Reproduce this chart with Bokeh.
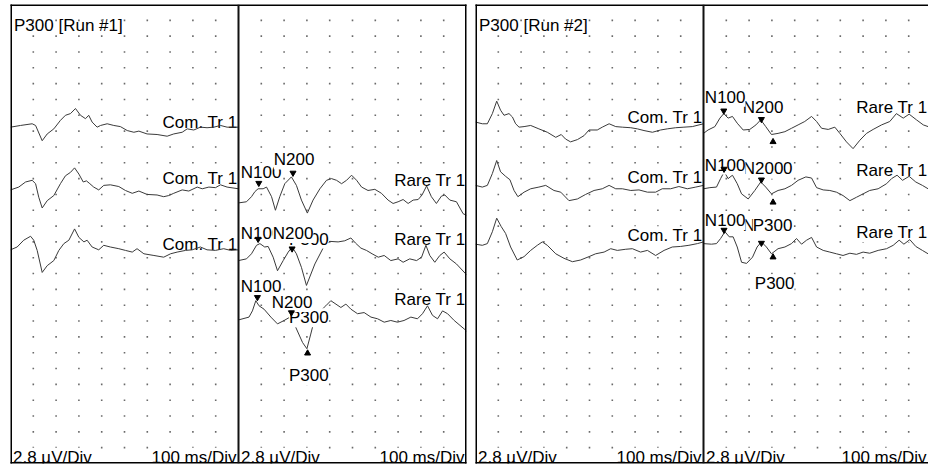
import numpy as np
from bokeh.plotting import figure
from bokeh.models import Range1d, Span
from bokeh.layouts import row
from bokeh.embed import file_html
from bokeh.resources import INLINE
from bokeh.core.properties import value

# ---------------- scale settings ----------------
UV_PER_DIV = 2.8
MS_PER_DIV = 100
N_YDIV = 29

# ---------------- Run #1, common (standard) trials : time [ms], amplitude [uV] ----------------
r1_com1_t = [0, 44, 95, 110, 139, 161, 190, 219, 241, 263, 285, 307, 329, 343, 358, 380, 395, 424, 453, 482,
             512, 541, 563, 599, 643, 687, 716, 753, 775, 804, 833, 862, 892, 921, 950, 1000]
r1_com1_v = [0, 0.3, 0.6, 0.3, -2.4, -1.2, -0.3, 1.2, 2.1, 2.4, 3.3, 2.1, 1.5, 2.1, 0.9, 0, 0.3, 0.6, 0.3, 0.1,
             -0.6, -0.9, -0.7, -1.2, -1.3, -1.6, -1.2, -0.9, -0.3, -0.5, 0, -0.1, 0, 0.3, 0, 0]
r1_com2_t = [0, 36, 66, 95, 110, 124, 139, 161, 190, 219, 241, 263, 281, 300, 319, 333, 348, 365, 387, 409,
             438, 475, 504, 534, 563, 599, 643, 672, 694, 716, 753, 782, 819, 841, 870, 899, 921, 950, 1000]
r1_com2_v = [0, 0.5, 1.4, 1.7, 1.1, -1.3, -3.2, -1.9, -1.0, 1.1, 2.5, 3.1, 3.9, 2.8, 1.4, 1.6, 1.1, 0.5, 0, 0.8,
             0.9, 0.6, -0.1, -0.6, -0.2, -0.8, -0.9, -1.2, -1.0, -0.6, 0, -0.2, 0.5, 0.2, 0.5, 0.4, 0.9, 0.5, 0.2]
r1_com3_t = [0, 29, 58, 88, 102, 117, 139, 161, 190, 212, 234, 256, 281, 300, 322, 336, 358, 387, 409, 438,
             475, 504, 534, 555, 585, 629, 672, 702, 731, 768, 797, 833, 862, 899, 935, 965, 1000]
r1_com3_v = [0, 0.5, 1.7, 2.4, 1.7, -0.1, -4.0, -2.8, -1.9, -0.1, 1.1, 1.7, 3.7, 2.2, 1.4, 1.7, 0.5, 0, 0.8, 0.5,
             0.2, -0.1, -0.4, 0.2, -0.7, -1.0, -1.3, -0.7, -0.4, -0.1, 0, 0.5, 0, -0.1, 0.2, -0.1, 0]

# ---------------- Run #1, rare (target) trials ----------------
r1_rare1_t = [0, 35, 57, 72, 86, 108, 123, 145, 162, 181, 203, 232, 254, 276, 302, 327, 357, 386, 408, 430,
              452, 474, 496, 518, 540, 568, 598, 627, 656, 678, 700, 722, 744, 766, 788, 805, 825, 846, 868, 890,
              905, 927, 956, 985, 1000]
r1_rare1_v = [0, 0.2, 1.1, 2.0, 2.5, 2.5, 2.8, 1.1, -1.3, 1.1, 3.4, 4.6, 3.1, 0.5, -1.8, 0.5, 2.5, 4.0, 4.3, 4.0,
              3.4, 4.0, 4.9, 4.0, 2.8, 2.2, 2.4, 1.7, 0.5, -0.1, 0.2, 0.6, -0.1, 0.5, 0.6, 1.4, 3.0, 1.1, -0.1, 1.2,
              1.4, 0.5, 0.2, -1.9, -2.2]
r1_rare2_t = [0, 35, 57, 79, 94, 115, 130, 152, 171, 196, 218, 235, 254, 276, 298, 335, 371, 400, 437, 466,
              493, 513, 537, 561, 586, 613, 639, 668, 700, 722, 751, 781, 803, 822, 839, 861, 883, 902, 927, 956,
              1000]
r1_rare2_v = [0, 0.3, 1.2, 2.7, 3.0, 2.4, 2.5, 0.6, -1.8, 0, 1.5, 2.4, 1.2, -1.2, -4.4, -0.6, 2.2, 3.4, 3.3, 3.5,
              4.0, 3.1, 2.2, 1.8, 1.2, 0.6, 0.9, 0, 0.3, -0.3, 0.3, 0, 0.6, 2.7, 0.9, -0.3, 0.9, 1.5, 0.3, -0.6,
              -2.5]
r1_rare3_t = [0, 46, 61, 76, 90, 112, 142, 171, 200, 226, 251, 281, 300, 317, 332, 352, 383, 405, 449, 471,
              493, 522, 551, 581, 610, 639, 668, 697, 726, 756, 785, 807, 829, 851, 873, 895, 917, 946, 990, 1000]
r1_rare3_v = [0, 0.5, 1.6, 3.4, 2.5, 1.9, 0.5, -0.7, -0.1, 0.5, -1.3, -4.0, -5.1, -2.5, -0.1, 1.3, 2.5, 3.4, 2.2, 2.8,
              1.9, 1.1, 1.3, 0.5, 0.2, -0.4, -0.1, -0.4, -0.1, 0.5, 0.2, 1.1, 2.5, 0.8, 0.2, 1.6, 1.1, -0.1, -1.6, -2.0]

# ---------------- Run #2, common trials ----------------
r2_com1_t = [0, 30, 52, 74, 93, 110, 125, 147, 162, 176, 191, 213, 242, 278, 315, 352, 376, 395, 417, 447,
             476, 498, 534, 556, 586, 615, 644, 681, 710, 739, 776, 812, 841, 878, 914, 951, 1000]
r2_com1_v = [0, -0.3, -0.3, 1.5, 3.7, 2.1, 1.2, 1.5, 0.9, -0.3, -0.9, -0.8, -0.6, -1.2, -1.8, -2.7, -2.2, -3.0, -3.5, -3.1,
             -2.4, -1.4, -1.4, -0.9, -0.3, -0.8, -0.9, -1.0, -1.2, -1.5, -1.8, -1.4, -1.2, -1.0, -0.9, -0.8, -0.3]
r2_com2_t = [0, 30, 52, 74, 93, 110, 132, 151, 169, 186, 213, 242, 278, 308, 344, 374, 410, 447, 483, 520,
             556, 586, 615, 644, 681, 717, 754, 790, 819, 856, 892, 929, 966, 1000]
r2_com2_v = [0, -0.3, 0, 2.1, 4.4, 2.4, 1.6, 1.0, -0.9, -2.0, -1.2, -0.6, -0.3, 0, -0.9, -1.2, -2.7, -2.4, -1.6, -0.9,
             -0.6, 0, -0.6, -0.6, -0.9, -0.8, -1.2, -1.2, -0.6, -0.6, -0.2, -0.6, -0.3, 0]
r2_com3_t = [0, 30, 52, 74, 93, 113, 132, 154, 183, 213, 242, 271, 293, 315, 352, 388, 425, 461, 498, 527,
             564, 593, 622, 659, 688, 724, 754, 790, 827, 863, 900, 936, 973, 1000]
r2_com3_v = [0, -0.2, 0.1, 2.2, 4.6, 3.1, 1.9, -0.5, -2.8, -2.2, -1.1, -0.2, 0.4, -0.2, -1.7, -2.5, -3.1, -2.8, -2.2, -1.7,
             -1.4, -0.8, -1.1, -0.9, -0.8, -1.4, -1.1, -2.0, -1.1, -0.5, -0.4, -0.2, 0.1, 0.4]

# ---------------- Run #2, rare trials ----------------
r2_rare1_t = [0, 20, 50, 72, 89, 108, 127, 148, 174, 203, 230, 251, 273, 298, 327, 357, 386, 415, 444, 474,
              496, 518, 547, 576, 598, 627, 656, 686, 715, 744, 781, 817, 846, 876, 902, 934, 964, 985]
r2_rare1_v = [0, 0.6, 1.2, 2.7, 3.5, 2.7, 3.0, 1.8, 0.6, 0.7, 1.5, 2.4, 1.2, -0.2, 0, 0.3, 0.9, 1.5, 2.1, 3.0,
              2.1, 0.9, 0.7, 1.1, 0, -1.5, -2.7, -1.2, 0, 0.7, 1.5, 2.1, 3.5, 2.7, 3.4, 2.4, 1.5, 1.2]
r2_rare2_t = [0, 28, 57, 75, 91, 108, 127, 148, 167, 196, 225, 251, 273, 298, 327, 357, 386, 415, 449, 474,
              496, 525, 554, 583, 612, 642, 671, 700, 729, 766, 803, 825, 849, 873, 902, 931, 960, 985]
r2_rare2_v = [0, 0.2, 0.3, 1.8, 3.0, 1.8, 2.4, 0.9, -0.9, -1.8, -0.3, 1.2, 0.3, -0.9, -0.3, 0, 0.6, 1.5, 2.1, 1.9,
              0.2, -0.2, -0.3, -0.6, -1.2, -2.1, -1.5, -0.9, -0.3, 0, 0.9, 1.8, 2.4, 1.5, 2.2, 1.2, 0.6, 0]
r2_rare3_t = [0, 35, 57, 75, 94, 113, 130, 148, 167, 189, 215, 235, 254, 276, 298, 327, 357, 386, 408, 430,
              452, 474, 496, 525, 554, 583, 612, 642, 671, 700, 729, 766, 803, 832, 858, 879, 905, 931, 960, 985]
r2_rare3_v = [0, -0.1, 0, 0.9, 2.1, 1.2, 1.2, -0.6, -3.3, -3.5, -2.4, -0.6, 0.3, -0.6, -1.8, -0.9, -0.6, 0, 0.9, -0.1,
              0.6, 1.1, -0.6, -1.2, -1.5, -1.8, -2.1, -1.7, -1.9, -1.5, -1.7, -1.2, -0.9, -0.3, 0.6, -0.1, 0.7, -0.5, -1.2, -1.8]

# ---------------- peak markers (trace index, latency ms, amplitude uV, direction) ----------------
r1_mark_trace = [0, 0, 1, 1, 2, 2, 2]
r1_mark_t = [89, 239, 86, 235, 83, 232, 303]
r1_mark_v = [3.5, 5.3, 3.8, 2.1, 4.0, 1.3, -5.9]
r1_mark_dir = ["down", "down", "down", "down", "down", "down", "up"]

r2_mark_trace = [0, 0, 0, 1, 1, 1, 2, 2, 2]
r2_mark_t = [89, 254, 305, 90, 254, 305, 90, 254, 305]
r2_mark_v = [4.0, 2.5, -1.5, 3.5, 1.6, -2.4, 2.4, 0.1, -2.4]
r2_mark_dir = ["down", "down", "up", "down", "down", "up", "down", "down", "up"]

# ---------------- peak labels (drawn in this order) ----------------
r1_peak_text = ["N100", "N200", "N100", "P300", "N200", "N100", "P300", "N200", "P300"]
r1_peak_t = [10, 155, 10, 221, 150, 10, 221, 146, 221]
r1_peak_y = [51.5, 53.7, 40.7, 39.7, 40.7, 31.4, 25.8, 28.5, 15.5]

r2_peak_text = ["N200", "N100", "P300", "N200", "N100", "N200", "P300", "N100", "P300"]
r2_peak_t = [172, 6, 216, 172, 6, 172, 216, 6, 225]
r2_peak_y = [63.0, 64.8, 52.1, 52.1, 52.8, 42.1, 42.1, 43.0, 31.8]

# ---------------- display layout (trace baselines, label rows) ----------------
r1_com_offsets = [59.5, 48.4, 37.8]
r1_rare_offsets = [46.1, 35.9, 25.4]
r2_com_offsets = [60.4, 49.2, 38.8]
r2_rare_offsets = [58.4, 48.6, 38.9]

r1_com_label_y = [60.3, 50.5, 38.8]
r1_rare_label_y = [50.0, 39.6, 29.0]
r2_com_label_y = [61.2, 50.6, 40.3]
r2_rare_label_y = [63.0, 51.8, 40.8]

TITLE_Y = 77.4
SCALE_Y = 1.1
Y_BOTTOM, Y_TOP = 0.0, N_YDIV * UV_PER_DIV

FONT = value("Liberation Sans")
FSIZE = value("17px")
TRACE_COLOR = "#3a3a3a"
DOT_COLOR = "#6a6a6a"
PANEL_PX = 456.0   # frame width (px) of a two-panel chart


def txt(p, rng, xs, ys, texts, align="left", xoff=0):
    p.text(x=xs, y=ys, text=texts, text_font=FONT, text_font_size=FSIZE, text_color="black",
           text_align=align, text_baseline="alphabetic", x_offset=xoff,
           background_fill_color="white", x_range_name=rng)


def draw_panel(p, rng, traces, offsets, chan_text, chan_y, peaks=None, marks=None):
    r = p.x_range if rng == "default" else p.extra_x_ranges[rng]
    right_edge = min(10 * MS_PER_DIV, r.end)   # visible right end of the panel
    gx = [MS_PER_DIV * i for i in range(1, 10)]
    gy = [UV_PER_DIV * k for k in range(1, N_YDIV)]
    X, Y = np.meshgrid(gx, gy)
    p.scatter(X.ravel(), Y.ravel(), marker="square", size=1.6, fill_color=DOT_COLOR,
              line_color=None, x_range_name=rng)
    # channel labels and scale texts
    txt(p, rng, [right_edge] * len(chan_y), chan_y, [chan_text] * len(chan_y), "right", -1)
    txt(p, rng, [0], [SCALE_Y], [f"{UV_PER_DIV} µV/Div"], "left", 2.5)
    txt(p, rng, [right_edge], [SCALE_Y], [f"{MS_PER_DIV} ms/Div"], "right", -2)
    # traces
    for (t, v), off in zip(traces, offsets):
        p.line(t, np.asarray(v) + off, line_color=TRACE_COLOR, line_width=1, x_range_name=rng)
    # peak labels
    if peaks is not None:
        ptext, pt, py = peaks
        txt(p, rng, pt, py, ptext, "left", 0)
    # markers
    if marks is not None:
        mtr, mt, mv, mdir = marks
        ys = [v + offsets[i] for i, v in zip(mtr, mv)]
        dn = [k for k, d in enumerate(mdir) if d == "down"]
        up = [k for k, d in enumerate(mdir) if d == "up"]
        p.scatter([mt[k] for k in dn], [ys[k] for k in dn], marker="inverted_triangle", size=6,
                  fill_color="black", line_color="black", x_range_name=rng)
        p.scatter([mt[k] for k in up], [ys[k] for k in up], marker="triangle", size=6,
                  fill_color="black", line_color="black", x_range_name=rng)


def make_chart(width, frame_w, mb_left, mb_right, title):
    x_end = 2 * 10 * MS_PER_DIV * frame_w / PANEL_PX
    p = figure(width=width, height=466, output_backend="svg", toolbar_location=None,
               x_range=Range1d(0, x_end), y_range=Range1d(Y_BOTTOM, Y_TOP),
               x_axis_location=None, y_axis_location=None,
               min_border_left=mb_left, min_border_right=mb_right,
               min_border_top=4, min_border_bottom=3,
               outline_line_color=None, background_fill_color="white",
               border_fill_color="white")
    p.extra_x_ranges = {"p2": Range1d(-10 * MS_PER_DIV, x_end - 10 * MS_PER_DIV)}
    p.grid.visible = False
    txt(p, "default", [0], [TITLE_Y], [title], "left", 3.5)
    return p


def add_borders(p):
    for loc in (0, 20 * MS_PER_DIV):
        p.add_layout(Span(location=loc, dimension="height", line_color="black", line_width=3,
                          line_cap="square"))
    for loc in (Y_BOTTOM, Y_TOP):
        p.add_layout(Span(location=loc, dimension="width", line_color="black", line_width=3,
                          line_cap="square"))
    p.add_layout(Span(location=10 * MS_PER_DIV, dimension="height", line_color="#111111",
                      line_width=2))


left = make_chart(468, 456, 10, 2, "P300 [Run #1]")
draw_panel(left, "default",
           [(r1_com1_t, r1_com1_v), (r1_com2_t, r1_com2_v), (r1_com3_t, r1_com3_v)],
           r1_com_offsets, "Com. Tr 1", r1_com_label_y)
draw_panel(left, "p2",
           [(r1_rare1_t, r1_rare1_v), (r1_rare2_t, r1_rare2_v), (r1_rare3_t, r1_rare3_v)],
           r1_rare_offsets, "Rare Tr 1", r1_rare_label_y,
           peaks=(r1_peak_text, r1_peak_t, r1_peak_y),
           marks=(r1_mark_trace, r1_mark_t, r1_mark_v, r1_mark_dir))
add_borders(left)

right = make_chart(455, 453, 2, 0, "P300 [Run #2]")
draw_panel(right, "default",
           [(r2_com1_t, r2_com1_v), (r2_com2_t, r2_com2_v), (r2_com3_t, r2_com3_v)],
           r2_com_offsets, "Com. Tr 1", r2_com_label_y)
draw_panel(right, "p2",
           [(r2_rare1_t, r2_rare1_v), (r2_rare2_t, r2_rare2_v), (r2_rare3_t, r2_rare3_v)],
           r2_rare_offsets, "Rare Tr 1", r2_rare_label_y,
           peaks=(r2_peak_text, r2_peak_t, r2_peak_y),
           marks=(r2_mark_trace, r2_mark_t, r2_mark_v, r2_mark_dir))
add_borders(right)

layout = row(left, right, spacing=5)
open("out.html", "w").write(file_html(layout, INLINE))
